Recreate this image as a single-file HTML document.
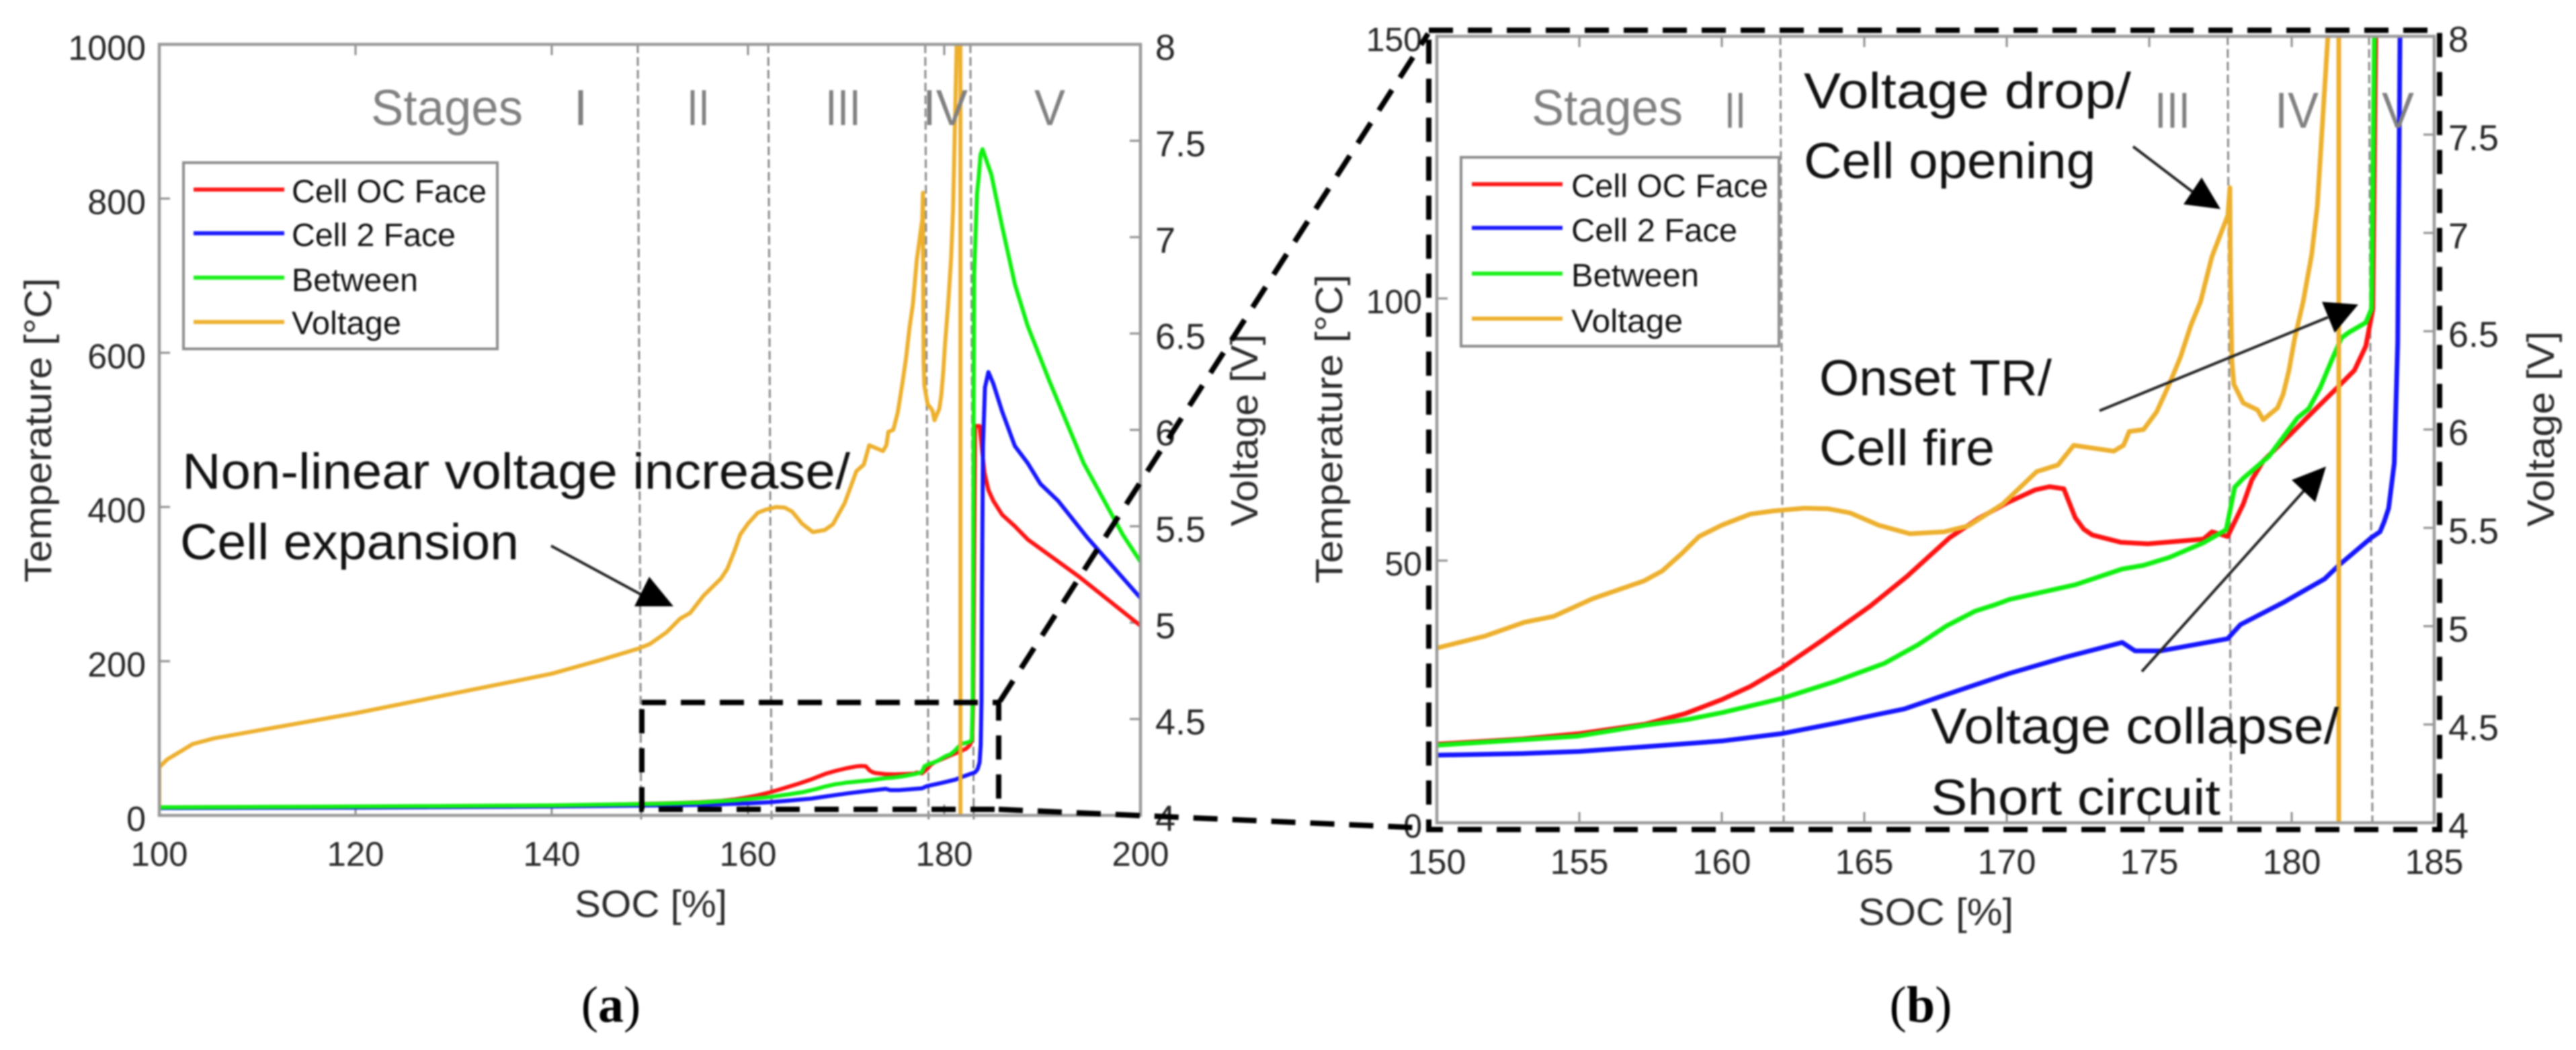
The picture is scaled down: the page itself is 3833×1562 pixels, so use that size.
<!DOCTYPE html>
<html lang="en">
<head>
<meta charset="utf-8">
<title>Temperature and voltage versus SOC</title>
<style>
html,body{margin:0;padding:0;background:#fff;}
svg{display:block;filter:blur(1.3px);}
text{font-family:"Liberation Sans",Arial,sans-serif;}
.tick{fill:#262626;}
.axis-title{fill:#2a2a2a;font-size:57px;}
.legend-text{fill:#111;font-size:48px;}
.stage{fill:#808080;font-size:75px;}
.note{fill:#111;font-size:75px;}
.dash{fill:none;stroke:#000;stroke-width:8;stroke-dasharray:36 22;}
.leader{fill:none;stroke:#222;stroke-width:4;}
.frame-legend{fill:#fff;stroke:#8c8c8c;stroke-width:4;}
.panel-letter{font-family:"Liberation Serif",serif;font-size:76px;fill:#000;}
</style>
</head>
<body>
<svg id="chart" xmlns="http://www.w3.org/2000/svg" width="3833" height="1562" viewBox="0 0 3833 1562">
  <rect x="0" y="0" width="3833" height="1562" fill="#fff"/>
  <defs>
    <clipPath id="clip-a"><rect x="237" y="66" width="1460" height="1147"/></clipPath>
    <clipPath id="clip-b"><rect x="2138" y="54" width="1484" height="1170"/></clipPath>
  </defs>

  <g id="panel-a"></g>
  <g id="panel-b"></g>

  <!-- Panel a text -->
  <g>
    <text class="stage" x="552" y="186" textLength="226" lengthAdjust="spacingAndGlyphs">Stages</text>
    <text class="stage" x="864" y="186" text-anchor="middle">I</text>
    <text class="stage" x="1022" y="186" textLength="34" lengthAdjust="spacingAndGlyphs">II</text>
    <text class="stage" x="1228" y="186" textLength="53" lengthAdjust="spacingAndGlyphs">III</text>
    <text class="stage" x="1373" y="186" textLength="67" lengthAdjust="spacingAndGlyphs">IV</text>
    <text class="stage" x="1539" y="186" textLength="46" lengthAdjust="spacingAndGlyphs">V</text>
  </g>
  <g>
    <rect class="frame-legend" x="273" y="242" width="467" height="277"/>
    <line x1="288" x2="423" y1="282" y2="282" stroke="#ff1a1a" stroke-width="6"/>
    <text class="legend-text" x="434" y="301" textLength="290" lengthAdjust="spacingAndGlyphs">Cell OC Face</text>
    <line x1="288" x2="423" y1="347" y2="347" stroke="#1a1aff" stroke-width="6"/>
    <text class="legend-text" x="434" y="366" textLength="244" lengthAdjust="spacingAndGlyphs">Cell 2 Face</text>
    <line x1="288" x2="423" y1="413" y2="413" stroke="#1af01a" stroke-width="6"/>
    <text class="legend-text" x="434" y="433" textLength="188" lengthAdjust="spacingAndGlyphs">Between</text>
    <line x1="288" x2="423" y1="479" y2="479" stroke="#edb02e" stroke-width="6"/>
    <text class="legend-text" x="434" y="497" textLength="163" lengthAdjust="spacingAndGlyphs">Voltage</text>
  </g>
  <text class="note" x="271" y="727" textLength="994" lengthAdjust="spacingAndGlyphs">Non-linear voltage increase/</text>
  <text class="note" x="268" y="832" textLength="504" lengthAdjust="spacingAndGlyphs">Cell expansion</text>
  <line class="leader" x1="820" y1="812" x2="955" y2="885"/>
  <polygon points="1002,902 966,858 944,902" fill="#000"/>
  <text class="axis-title" transform="translate(76,640) rotate(-90)" text-anchor="middle" textLength="453" lengthAdjust="spacingAndGlyphs">Temperature [°C]</text>
  <text class="axis-title" transform="translate(1871,640) rotate(-90)" text-anchor="middle" textLength="286" lengthAdjust="spacingAndGlyphs">Voltage [V]</text>
  <text class="axis-title" x="855" y="1364" textLength="227" lengthAdjust="spacingAndGlyphs">SOC [%]</text>
  <text class="panel-letter" x="909" y="1520" text-anchor="middle">(<tspan font-weight="bold">a</tspan>)</text>

  <!-- Panel b text -->
  <g>
    <text class="stage" x="2279" y="186" textLength="225" lengthAdjust="spacingAndGlyphs">Stages</text>
    <text class="stage" x="2566" y="190" textLength="32" lengthAdjust="spacingAndGlyphs">II</text>
    <text class="stage" x="3206" y="190" textLength="53" lengthAdjust="spacingAndGlyphs">III</text>
    <text class="stage" x="3385" y="190" textLength="65" lengthAdjust="spacingAndGlyphs">IV</text>
    <text class="stage" x="3544" y="190" textLength="48" lengthAdjust="spacingAndGlyphs">V</text>
  </g>
  <g>
    <rect class="frame-legend" x="2174" y="234" width="473" height="281"/>
    <line x1="2190" x2="2325" y1="274" y2="274" stroke="#ff1a1a" stroke-width="6"/>
    <text class="legend-text" x="2338" y="293" textLength="293" lengthAdjust="spacingAndGlyphs">Cell OC Face</text>
    <line x1="2190" x2="2325" y1="339" y2="339" stroke="#1a1aff" stroke-width="6"/>
    <text class="legend-text" x="2338" y="359" textLength="247" lengthAdjust="spacingAndGlyphs">Cell 2 Face</text>
    <line x1="2190" x2="2325" y1="407" y2="407" stroke="#1af01a" stroke-width="6"/>
    <text class="legend-text" x="2338" y="426" textLength="190" lengthAdjust="spacingAndGlyphs">Between</text>
    <line x1="2190" x2="2325" y1="474" y2="474" stroke="#edb02e" stroke-width="6"/>
    <text class="legend-text" x="2338" y="494" textLength="166" lengthAdjust="spacingAndGlyphs">Voltage</text>
  </g>
  <text class="note" x="2684" y="161" textLength="487" lengthAdjust="spacingAndGlyphs">Voltage drop/</text>
  <text class="note" x="2684" y="265" textLength="434" lengthAdjust="spacingAndGlyphs">Cell opening</text>
  <text class="note" x="2707" y="588" textLength="346" lengthAdjust="spacingAndGlyphs">Onset TR/</text>
  <text class="note" x="2707" y="692" textLength="261" lengthAdjust="spacingAndGlyphs">Cell fire</text>
  <text class="note" x="2873" y="1106" textLength="607" lengthAdjust="spacingAndGlyphs">Voltage collapse/</text>
  <text class="note" x="2873" y="1212" textLength="431" lengthAdjust="spacingAndGlyphs">Short circuit</text>
  <line class="leader" x1="3174" y1="218" x2="3262" y2="285"/>
  <polygon points="3304,311 3276,264 3249,304" fill="#000"/>
  <line class="leader" x1="3124" y1="611" x2="3464" y2="472"/>
  <polygon points="3509,453 3455,449 3474,495" fill="#000"/>
  <line class="leader" x1="3187" y1="999" x2="3430" y2="728"/>
  <polygon points="3461,694 3410,714 3445,747" fill="#000"/>
  <text class="axis-title" transform="translate(1997,638) rotate(-90)" text-anchor="middle" textLength="460" lengthAdjust="spacingAndGlyphs">Temperature [°C]</text>
  <text class="axis-title" transform="translate(3800,638) rotate(-90)" text-anchor="middle" textLength="291" lengthAdjust="spacingAndGlyphs">Voltage [V]</text>
  <text class="axis-title" x="2765" y="1376" textLength="231" lengthAdjust="spacingAndGlyphs">SOC [%]</text>
  <text class="panel-letter" x="2858" y="1520" text-anchor="middle">(<tspan font-weight="bold">b</tspan>)</text>

  <!-- Zoom indicator dashes -->
  <g>
    <rect class="dash" x="955" y="1045" width="531" height="159"/>
    <line class="dash" x1="1488" y1="1043" x2="2125" y2="50"/>
    <line class="dash" x1="1486" y1="1204" x2="2125" y2="1232"/>
    <rect class="dash" x="2126" y="45" width="1504" height="1189"/>
  </g>
</svg>

<script>
// ---- Chart data ----
const redSoc  = [100,120,140,150,153,155,157.3,158.7,160,161,162.1,163.5,165.2,166.5,168,169,170,171,171.5,172,172.4,172.7,173,174,174.95,176.9,177.2,177.75,178.3,178.6,179,179.9,180.8,181.6,182.2,182.6,182.85,182.95,183.15,183.6,184.1,184.5,185,185.9,187.2,188.5,193.8,200];
const redTemp = [10.5,11,12.5,15,16,17,18.8,20.8,23.5,26,29.5,34.7,41.3,47,54.4,58,61,63.5,64.1,63.7,58.2,56,54.9,53.5,53.2,54.1,55.5,54.6,60.8,65.4,69,73.8,78.7,83,86.3,90.9,98,150,505,505,444,422,408,390,375,358,309,246];

const blueSoc  = [100,120,140,150,153,155,157.3,160,162.1,164,165.5,166.4,167.9,170.1,172,174.05,174.5,175.4,177.75,178.2,179.7,181.15,181.65,182.8,183.1,183.25,183.4,183.6,183.72,183.8,183.85,183.95,184.15,184.5,185,185.9,187.2,188.5,189.8,191.6,194.6,200];
const blueTemp = [9.5,10,11.5,12.9,13.2,13.6,14.5,15.6,17,19,20.7,21.7,24.5,28.5,31.5,34.4,32.8,32.8,35.1,37.8,42,46.5,49.1,54.4,55.5,57.5,60,68.6,91.5,150,300,480,555,575,560,524,479,457,430,408,360,282];

const greenSoc  = [100,120,140,150,154.9,157.3,158.8,160,162.1,164,165.7,166.9,167.9,168.9,169.6,170.1,172.4,174.05,174.8,175.7,176.9,177.7,178,178.3,179.2,180.2,180.6,181,181.2,181.4,181.75,182,182.6,182.8,182.9,183.05,183.35,183.5,183.7,183.9,184.8,185.9,187.2,188.5,190.7,194.2,198.2,200];
const greenTemp = [10.5,11.5,13,14.8,16.5,18.6,19.7,21,23.7,27,30.4,34,37.6,40.4,41.6,42.6,45.4,48.4,49.1,50.6,53.4,55.9,64,65.7,69.9,77.2,79,83,85.6,88.2,92.5,93.5,95.4,98,150,702,808,826,857,864,831,764,689,635,564,457,364,329];

const voltSoc = [100,100,100.8,102.1,103.4,105.6,120,140,144.9,148.8,150,151.7,153.07,154.1,155.47,157.27,157.9,158.6,159.2,160,161,161.8,162.9,163.75,164.5,165.5,166.6,167.8,168.65,169.85,171.05,171.8,172.35,173.75,174.1,174.3,174.8,175.26,175.7,176.1,176.46,176.8,177.2,177.76,177.83,177.85,177.9,177.97,178.3,178.8,179,179.5,179.7,179.9,180.1,180.4,180.7,180.9,181.05,181.2,181.27,181.4,181.55,181.65,181.65];
const voltVal = [4.05,4.25,4.29,4.33,4.37,4.4,4.53,4.735,4.805,4.865,4.889,4.95,5.02,5.05,5.14,5.23,5.28,5.37,5.456,5.514,5.57,5.586,5.6,5.597,5.576,5.514,5.47,5.48,5.51,5.62,5.786,5.82,5.92,5.89,5.92,5.99,6,6.09,6.23,6.37,6.53,6.65,6.88,7.09,7.23,6.79,6.35,6.23,6.135,6.1,6.05,6.11,6.18,6.3,6.46,6.65,6.89,7.14,7.49,7.84,8,8.6,8.6,8.6,4];

const stageLinesA = [148.9,162.2,178.2,182.8];
const stageLinesB = [162.1,177.8,182.76];

const xTicksA = [100,120,140,160,180,200];
const tempTicksA = [0,200,400,600,800,1000];
const xTicksB = [150,155,160,165,170,175,180,185];
const tempTicksB = [0,50,100,150];
const voltTicks = [4,4.5,5,5.5,6,6.5,7,7.5,8];

// ---- Panel geometry ----
const panelA = {id:'a',left:237,right:1697,top:66,bottom:1213,xMin:100,xMax:200,tMax:1000,xTicks:xTicksA,tTicks:tempTicksA,stages:stageLinesA,clip:'clip-a',leftEdge:217,rightText:1719,xBase:1288,tOff:23,lw:6,xFont:51,lFont:52,rFont:54,stageExtra:12};
const panelB = {id:'b',left:2138,right:3622,top:54,bottom:1224,xMin:150,xMax:185,tMax:150,xTicks:xTicksB,tTicks:tempTicksB,stages:stageLinesB,clip:'clip-b',leftEdge:2116,rightText:3643,xBase:1300,tOff:22,lw:7,xFont:52,lFont:50,rFont:54,stageExtra:0};

const NS = 'http://www.w3.org/2000/svg';
function node(parent, tag, attrs) {
  const el = document.createElementNS(NS, tag);
  for (const k in attrs) el.setAttribute(k, attrs[k]);
  parent.appendChild(el);
  return el;
}
function xScale(p, v) { return p.left + (v - p.xMin) / (p.xMax - p.xMin) * (p.right - p.left); }
function tScale(p, v) { return p.bottom - v / p.tMax * (p.bottom - p.top); }
function vScale(p, v) { return p.bottom - (v - 4) / 4 * (p.bottom - p.top); }

function drawSeries(p, root, name, xs, ys, scale, color, width) {
  const pts = xs.map(function (x, i) { return xScale(p, x).toFixed(1) + ',' + scale(p, ys[i]).toFixed(1); }).join(' ');
  const el = node(root, 'polyline', {points: pts, fill: 'none', stroke: color, 'stroke-width': width, 'stroke-linejoin': 'round', 'clip-path': 'url(#' + p.clip + ')'});
  
  
}

function drawPanel(p, root) {
  const gray = '#8e8e8e';
  // stage boundary lines
  p.stages.forEach(function (s, i) {
    const x = xScale(p, s);
    const ln = node(root, 'line', {x1: x - 2, x2: x + 3, y1: p.top, y2: p.bottom + p.stageExtra, stroke: '#8a8a8a', 'stroke-width': 3, 'stroke-dasharray': '13 6'});
    
    
  });
  // x ticks top & bottom with labels
  p.xTicks.forEach(function (t) {
    const x = xScale(p, t);
    if (t !== p.xMin && t !== p.xMax) {
      const a = node(root, 'line', {x1: x, x2: x, y1: p.bottom, y2: p.bottom - 16, stroke: gray, 'stroke-width': 3});
      
      
      const b = node(root, 'line', {x1: x, x2: x, y1: p.top, y2: p.top + 16, stroke: gray, 'stroke-width': 3});
      
      
    }
    const lab = node(root, 'text', {x: x, y: p.xBase, 'text-anchor': 'middle', class: 'tick', 'font-size': p.xFont});
    lab.textContent = String(t);
    
    
  });
  // temperature ticks
  p.tTicks.forEach(function (t) {
    const y = tScale(p, t);
    if (t !== 0 && t !== p.tMax) {
      const m = node(root, 'line', {x1: p.left, x2: p.left + 16, y1: y, y2: y, stroke: gray, 'stroke-width': 3});
      
      
    }
    const lab = node(root, 'text', {x: p.leftEdge, y: y + p.tOff, 'text-anchor': 'end', class: 'tick', 'font-size': p.lFont});
    lab.textContent = String(t);
    
    
  });
  // voltage ticks
  voltTicks.forEach(function (v) {
    const y = vScale(p, v);
    if (v !== 4 && v !== 8) {
      const m = node(root, 'line', {x1: p.right, x2: p.right - 16, y1: y, y2: y, stroke: gray, 'stroke-width': 3});
      
      
    }
    const lab = node(root, 'text', {x: p.rightText, y: y + 23, class: 'tick', 'font-size': p.rFont});
    lab.textContent = String(v);
    
    
  });
  // series
  drawSeries(p, root, 'cell-oc-face', redSoc, redTemp, tScale, '#ff1212', p.lw);
  drawSeries(p, root, 'cell-2-face', blueSoc, blueTemp, tScale, '#1515ff', p.lw);
  drawSeries(p, root, 'between', greenSoc, greenTemp, tScale, '#10f010', p.lw);
  drawSeries(p, root, 'voltage', voltSoc, voltVal, vScale, '#edb02e', p.lw);
  // axes frame
  const frame = node(root, 'rect', {x: p.left, y: p.top, width: p.right - p.left, height: p.bottom - p.top, fill: 'none', stroke: '#999', 'stroke-width': 4.5});
  
  
}

drawPanel(panelA, document.getElementById('panel-a'));
drawPanel(panelB, document.getElementById('panel-b'));
</script>
</body>
</html>
